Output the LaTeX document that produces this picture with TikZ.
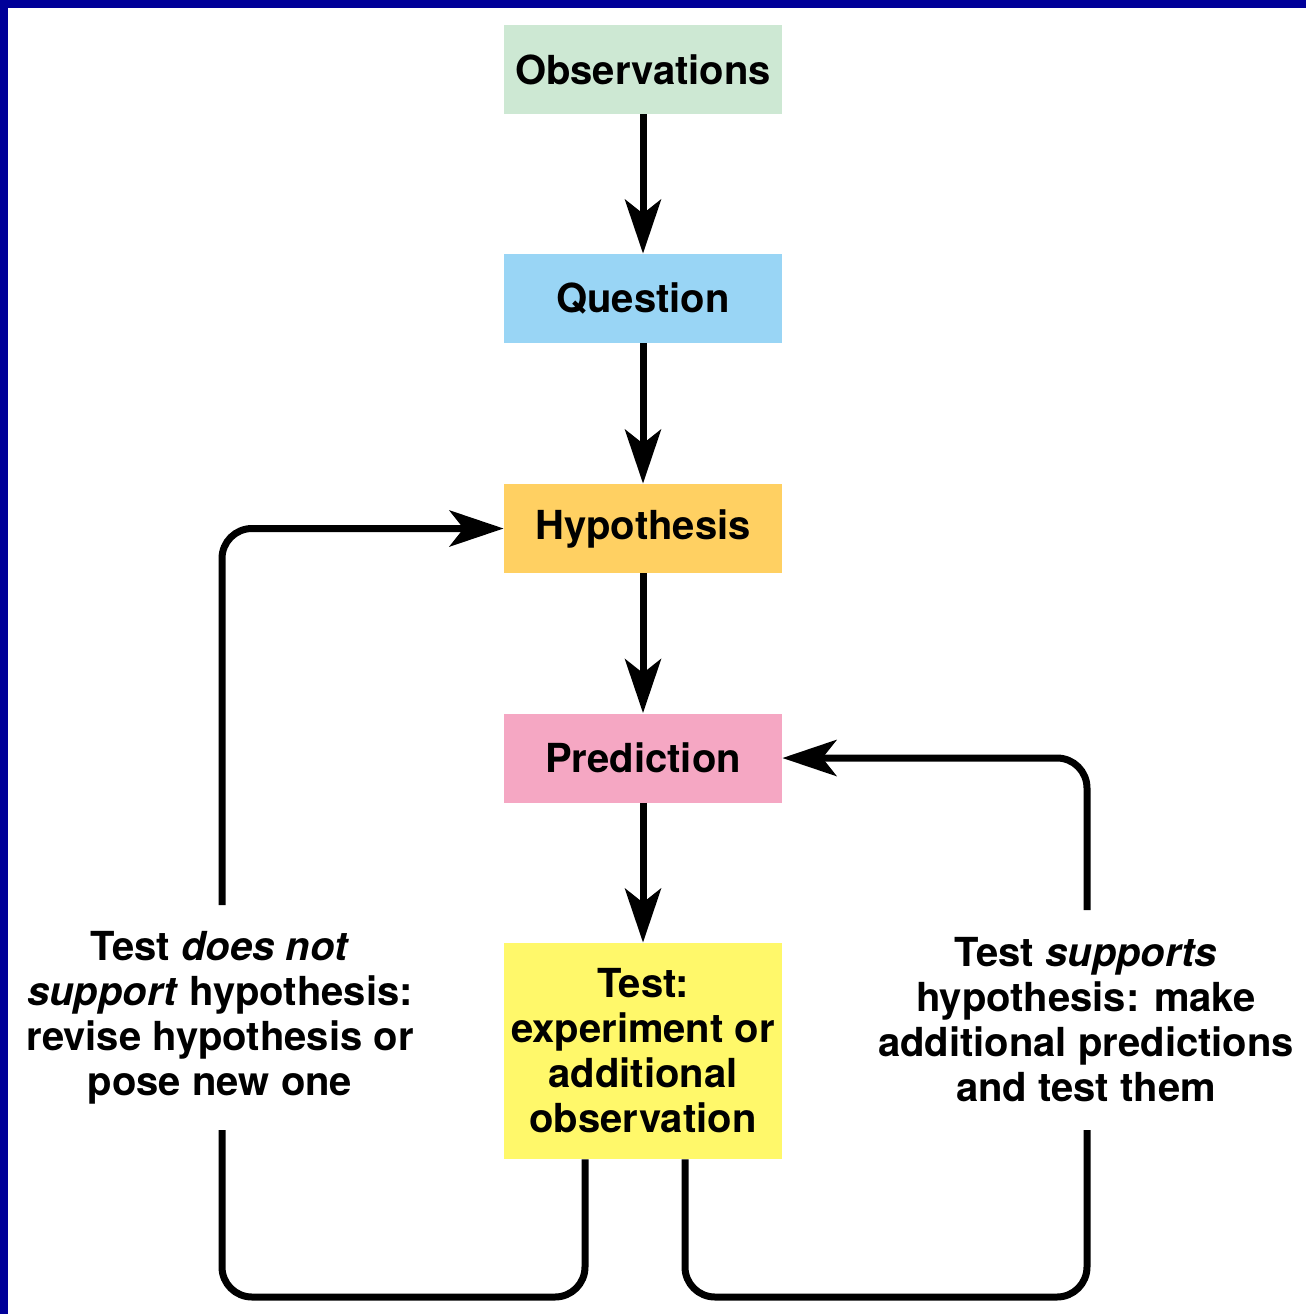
\documentclass[tikz,border=0pt]{standalone}
\usepackage{fontspec}
\setmainfont{TeX Gyre Heros}
\usetikzlibrary{arrows.meta}
\definecolor{obsc}{RGB}{205,232,211}
\definecolor{quec}{RGB}{153,213,245}
\definecolor{hypc}{RGB}{255,208,98}
\definecolor{prec}{RGB}{245,167,195}
\definecolor{tesc}{RGB}{255,248,106}
\definecolor{bordc}{RGB}{0,0,153}
\begin{document}
\begin{tikzpicture}[x=0.5pt,y=-0.5pt,
  box/.style={minimum width=139pt,minimum height=44.5pt,inner sep=0pt,
    font=\fontsize{20}{22.5}\selectfont\bfseries,align=center},
  flow/.style={line width=3.5pt,-{Stealth[length=27pt,width=18pt,inset=7pt]}},
  loopline/.style={line width=3.5pt,rounded corners=15pt},
  note/.style={font=\fontsize{20}{22.5}\selectfont\bfseries,align=center,inner sep=0pt}]
\useasboundingbox (0,0) rectangle (1306,1314);
\fill[white] (0,0) rectangle (1306,1314);
\fill[bordc] (0,0) rectangle (1306,8);
\fill[bordc] (0,0) rectangle (8,1314);

\node[box,fill=obsc] (obs) at (643,69.5) {Observations};
\node[box,fill=quec] (que) at (643,298.5) {Question};
\node[box,fill=hypc] (hyp) at (643,528.5) {Hypothesis};
\node[box,fill=prec] (pre) at (643,758) {Prediction};
\node[box,fill=tesc,minimum height=108pt] (tes) at (643,1051)
  {Test:\\experiment or\\additional\\observation};

\draw[flow] (obs.south) -- (que.north);
\draw[flow] (que.south) -- (hyp.north);
\draw[flow] (hyp.south) -- (pre.north);
\draw[flow] (pre.south) -- (tes.north);

\node[note] (nl) at (220,1018) {Test \textit{does not}\\\textit{support} hypothesis:\\revise hypothesis or\\pose new one};
\node[note] (nr) at (1086,1020) {Test \textit{supports}\\hypothesis: make\\additional predictions\\and test them};

\coordinate (lb) at (222,1297);
\coordinate (l1) at (222,1130);
\coordinate (l2) at (222,905);
\coordinate (rb) at (1087,1297);
\coordinate (r1) at (1087,1130);
\coordinate (r2) at (1087,910);

\draw[loopline] ([xshift=-29pt]tes.south) |- (lb) -- (l1);
\draw[loopline,flow] (l2) |- (hyp.west);
\draw[loopline] ([xshift=21pt]tes.south) |- (rb) -- (r1);
\draw[loopline,flow] (r2) |- (pre.east);
\end{tikzpicture}
\end{document}
